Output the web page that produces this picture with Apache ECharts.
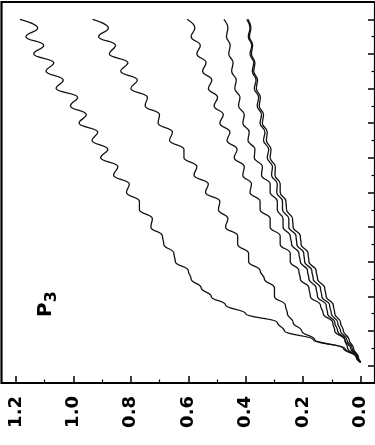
<!DOCTYPE html>
<html>
<head>
<meta charset="utf-8">
<style>
  html, body { margin: 0; padding: 0; background: #fff; }
  #chart { width: 375px; height: 445px; }
</style>
<script src="https://cdn.jsdelivr.net/npm/echarts@6.0.0/dist/echarts.min.js"></script>
</head>
<body>
<div id="chart"></div>
<script>
// Independent variable (runs bottom to top)
const tValues = [0.1, 0.25, 0.5, 0.75, 1.0, 1.25, 1.5, 1.75, 2.0, 2.25, 2.5, 2.75,
  3.0, 3.25, 3.5, 3.75, 4.0, 4.25, 4.5, 4.75, 5.0, 5.25, 5.5, 5.75, 6.0, 6.25,
  6.5, 6.75, 7.0, 7.25, 7.5, 7.75, 8.0, 8.25, 8.5, 8.75, 9.0, 9.25, 9.5, 9.75, 10.0];

// Curve values (plotted along the horizontal, reversed axis)
const curve1 = [0, 0.015, 0.06, 0.165, 0.265, 0.29, 0.40, 0.47, 0.52, 0.555, 0.59, 0.60,
  0.645, 0.65, 0.685, 0.69, 0.73, 0.725, 0.77, 0.77, 0.815, 0.805, 0.86, 0.845, 0.905, 0.88,
  0.935, 0.915, 0.98, 0.955, 1.01, 0.985, 1.06, 1.035, 1.095, 1.068, 1.138, 1.103, 1.165, 1.124, 1.186];
const curve2 = [0, 0.015, 0.055, 0.16, 0.205, 0.235, 0.255, 0.262, 0.30, 0.30, 0.335, 0.35,
  0.39, 0.39, 0.428, 0.428, 0.47, 0.462, 0.495, 0.49, 0.54, 0.53, 0.58, 0.57, 0.615, 0.615,
  0.665, 0.655, 0.705, 0.70, 0.75, 0.742, 0.80, 0.777, 0.835, 0.81, 0.875, 0.853, 0.912, 0.878, 0.933];
const curve3 = [0, 0.015, 0.045, 0.055, 0.09, 0.097, 0.13, 0.14, 0.175, 0.18, 0.21, 0.215,
  0.245, 0.245, 0.28, 0.28, 0.315, 0.315, 0.35, 0.35, 0.385, 0.38, 0.41, 0.405, 0.44, 0.43,
  0.465, 0.455, 0.49, 0.478, 0.51, 0.498, 0.53, 0.518, 0.55, 0.538, 0.57, 0.558, 0.59, 0.577, 0.604];
const curve4 = [0, 0.012, 0.035, 0.055, 0.08, 0.09, 0.115, 0.12, 0.15, 0.155, 0.18, 0.185,
  0.21, 0.215, 0.24, 0.245, 0.27, 0.27, 0.29, 0.29, 0.315, 0.315, 0.345, 0.342, 0.37, 0.368,
  0.392, 0.388, 0.41, 0.405, 0.425, 0.42, 0.438, 0.433, 0.449, 0.444, 0.459, 0.454, 0.467, 0.462, 0.476];
const curve5 = [0, 0.01, 0.03, 0.048, 0.07, 0.08, 0.102, 0.108, 0.135, 0.14, 0.165, 0.17,
  0.195, 0.198, 0.222, 0.225, 0.25, 0.25, 0.272, 0.272, 0.292, 0.29, 0.31, 0.307, 0.325, 0.32,
  0.338, 0.333, 0.35, 0.345, 0.36, 0.355, 0.37, 0.364, 0.377, 0.372, 0.385, 0.379, 0.391, 0.385, 0.396];
const curve6 = [0, 0.008, 0.025, 0.04, 0.06, 0.07, 0.09, 0.095, 0.12, 0.125, 0.15, 0.155,
  0.18, 0.183, 0.207, 0.21, 0.235, 0.237, 0.258, 0.26, 0.28, 0.28, 0.298, 0.297, 0.315, 0.312,
  0.328, 0.325, 0.342, 0.338, 0.353, 0.349, 0.363, 0.359, 0.372, 0.368, 0.38, 0.376, 0.387, 0.382, 0.392];

const curves = [curve1, curve2, curve3, curve4, curve5, curve6];

// Ticks
const valueMajorTicks = [0, 0.2, 0.4, 0.6, 0.8, 1.0, 1.2];
const valueMinorTicks = [0.1, 0.3, 0.5, 0.7, 0.9, 1.1];
const tMajorTicks = [0, 1, 2, 3, 4, 5, 6, 7, 8, 9, 10];
const tMinorTicks = [0.5, 1.5, 2.5, 3.5, 4.5, 5.5, 6.5, 7.5, 8.5, 9.5];
const panelLabel = 'P';
const panelSub = '3';

const chart = echarts.init(document.getElementById('chart'));

const gridBox = { left: 1.5, right: -1, top: 2, bottom: 62, containLabel: false };
const valueRange = { min: -0.05, max: 1.25 };
const tRange = { min: -0.5, max: 10.5 };

const labelFont = {
  fontFamily: 'DejaVu Sans',
  fontWeight: 'bold',
  fontSize: 18,
  color: '#000'
};

const hiddenLine = { show: false, onZero: false };

const option = {
  animation: false,
  backgroundColor: '#fff',
  grid: [
    Object.assign({ show: true, borderColor: '#000', borderWidth: 2.2, backgroundColor: 'transparent' }, gridBox),
    Object.assign({ show: false }, gridBox)
  ],
  xAxis: [
    {
      gridIndex: 0, type: 'value', position: 'bottom', inverse: true,
      min: valueRange.min, max: valueRange.max,
      axisLine: hiddenLine,
      splitLine: { show: false },
      axisTick: { show: true, inside: true, length: 7, customValues: valueMajorTicks,
        lineStyle: { color: '#000', width: 1.5 } },
      axisLabel: Object.assign({
        show: true, rotate: 90, margin: 13, customValues: valueMajorTicks,
        formatter: v => v.toFixed(1)
      }, labelFont)
    },
    {
      gridIndex: 1, type: 'value', position: 'bottom', inverse: true,
      min: valueRange.min, max: valueRange.max,
      axisLine: hiddenLine,
      splitLine: { show: false },
      axisTick: { show: true, inside: true, length: 3.5, customValues: valueMinorTicks,
        lineStyle: { color: '#000', width: 1.2 } },
      axisLabel: { show: false }
    }
  ],
  yAxis: [
    {
      gridIndex: 0, type: 'value', position: 'right',
      min: tRange.min, max: tRange.max,
      axisLine: hiddenLine,
      splitLine: { show: false },
      axisTick: { show: true, inside: true, length: 7, customValues: tMajorTicks,
        lineStyle: { color: '#000', width: 1.5 } },
      axisLabel: { show: false }
    },
    {
      gridIndex: 1, type: 'value', position: 'right',
      min: tRange.min, max: tRange.max,
      axisLine: hiddenLine,
      splitLine: { show: false },
      axisTick: { show: true, inside: true, length: 3.5, customValues: tMinorTicks,
        lineStyle: { color: '#000', width: 1.2 } },
      axisLabel: { show: false }
    }
  ],
  series: curves.map((vals, k) => ({
    name: 'curve' + (k + 1),
    type: 'line',
    xAxisIndex: 0,
    yAxisIndex: 0,
    showSymbol: false,
    smooth: 0.45,
    smoothMonotone: 'y',
    lineStyle: { color: '#111', width: 1.3 },
    data: vals.map((v, i) => [v, tValues[i]])
  })),
  graphic: [
    {
      type: 'text',
      x: 48,
      y: 304,
      rotation: Math.PI / 2,
      style: {
        text: '{a|' + panelLabel + '}{b|' + panelSub + '}',
        align: 'center',
        verticalAlign: 'middle',
        rich: {
          a: { fontFamily: 'DejaVu Sans', fontWeight: 'bold', fontSize: 20, fill: '#000',
               padding: [0, 0, 4, 0], verticalAlign: 'bottom' },
          b: { fontFamily: 'DejaVu Sans', fontWeight: 'bold', fontSize: 16, fill: '#000',
               verticalAlign: 'bottom' }
        }
      }
    }
  ]
};

chart.setOption(option);
</script>
</body>
</html>
